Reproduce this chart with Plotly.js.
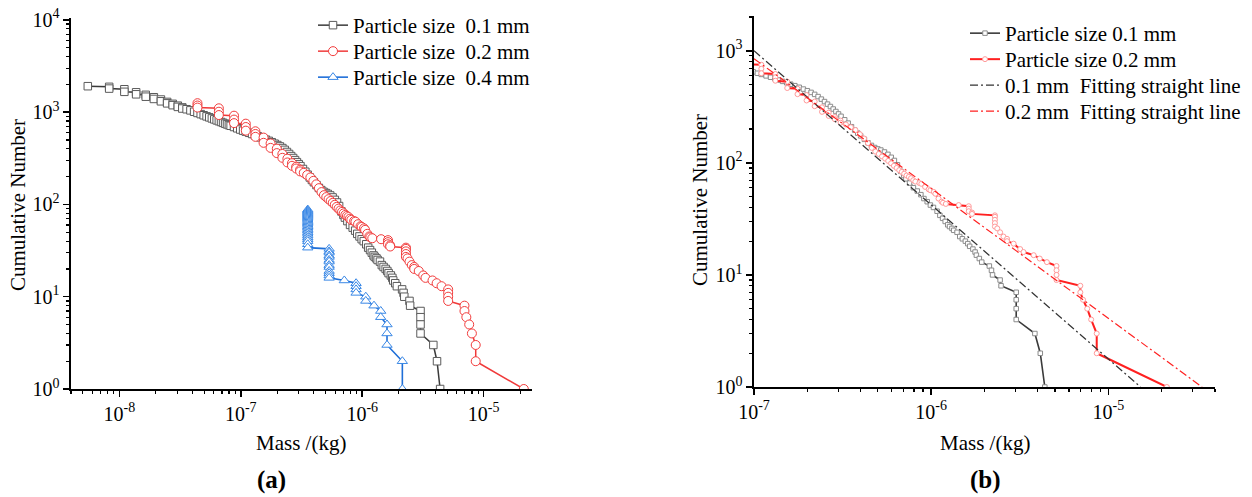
<!DOCTYPE html>
<html>
<head>
<meta charset="utf-8">
<script src="https://cdn.plot.ly/plotly-3.0.1.min.js"></script>
<style>html,body{margin:0;padding:0;background:#fff;}#chart{width:1252px;height:497px;}</style>
</head>
<body>
<div id="chart"></div>
<script>
// ---- data ----
// 0.1 mm particles: mass (kg) and cumulative number
const mass01 = [5.5e-9, 8.25e-9, 8.25e-9, 1.1e-8, 1.1e-8, 1.375e-8, 1.375e-8, 1.65e-8, 1.65e-8, 1.925e-8, 1.925e-8, 2.2e-8, 2.2e-8, 2.475e-8, 2.475e-8, 2.75e-8, 2.75e-8, 3.03e-8, 3.03e-8, 3.3e-8, 3.3e-8, 3.58e-8, 3.85e-8, 4.13e-8, 4.4e-8, 4.68e-8, 4.95e-8, 5.23e-8, 5.5e-8, 5.78e-8, 6.05e-8, 6.33e-8, 6.6e-8, 6.88e-8, 7.15e-8, 7.43e-8, 7.7e-8, 7.98e-8, 8.25e-8, 8.8e-8, 9.35e-8, 9.9e-8, 1.045e-7, 1.1e-7, 1.17e-7, 1.24e-7, 1.31e-7, 1.38e-7, 1.45e-7, 1.53e-7, 1.61e-7, 1.7e-7, 1.8e-7, 1.9e-7, 2.0e-7, 2.1e-7, 2.2e-7, 2.3e-7, 2.4e-7, 2.5e-7, 2.6e-7, 2.7e-7, 2.8e-7, 2.9e-7, 3.0e-7, 3.1e-7, 3.25e-7, 3.4e-7, 3.55e-7, 3.7e-7, 3.85e-7, 4.0e-7, 4.2e-7, 4.4e-7, 4.6e-7, 4.8e-7, 5.0e-7, 5.2e-7, 5.45e-7, 5.7e-7, 5.95e-7, 6.2e-7, 6.45e-7, 6.74e-7, 7.0e-7, 7.2e-7, 7.55e-7, 7.94e-7, 8.35e-7, 8.75e-7, 9.1e-7, 9.5e-7, 9.9e-7, 1.03e-6, 1.08e-6, 1.12e-6, 1.16e-6, 1.2e-6, 1.24e-6, 1.27e-6, 1.31e-6, 1.34e-6, 1.4e-6, 1.45e-6, 1.5e-6, 1.56e-6, 1.61e-6, 1.65e-6, 1.72e-6, 1.77e-6, 1.8e-6, 1.87e-6, 1.93e-6, 2.13e-6, 2.19e-6, 2.22e-6, 2.45e-6, 2.48e-6, 3.02e-6, 3.02e-6, 3.02e-6, 3.02e-6, 3.85e-6, 4.13e-6, 4.38e-6];
const count01 = [1910, 1880, 1800, 1770, 1660, 1640, 1560, 1540, 1470, 1450, 1390, 1370, 1310, 1290, 1245, 1230, 1190, 1175, 1140, 1125, 1095, 1075, 1045, 1010, 980, 952, 925, 900, 878, 855, 835, 815, 798, 782, 766, 750, 737, 724, 712, 690, 668, 648, 630, 615, 597, 580, 563, 548, 533, 518, 503, 488, 472, 455, 440, 425, 408, 390, 370, 352, 334, 318, 302, 287, 273, 260, 242, 226, 210, 196, 184, 174, 162, 151, 143, 137, 133, 130, 125, 119, 112, 105, 96, 84, 77, 72, 66, 60, 56, 52, 48, 45, 42, 40, 37, 34, 32, 30, 28, 27, 26, 25, 24, 22, 21, 20, 19, 18, 17, 16, 15, 14, 13, 12, 11, 10, 9, 8, 7, 6, 5, 4, 3, 2, 1];

// 0.2 mm particles
const mass02 = [4.4e-8, 4.4e-8, 4.4e-8, 6.6e-8, 6.6e-8, 6.6e-8, 8.8e-8, 8.8e-8, 8.8e-8, 1.1e-7, 1.1e-7, 1.1e-7, 1.32e-7, 1.32e-7, 1.32e-7, 1.54e-7, 1.54e-7, 1.76e-7, 1.76e-7, 1.98e-7, 1.98e-7, 2.2e-7, 2.2e-7, 2.42e-7, 2.42e-7, 2.64e-7, 2.64e-7, 2.86e-7, 2.86e-7, 3.08e-7, 3.08e-7, 3.3e-7, 3.52e-7, 3.74e-7, 3.96e-7, 4.18e-7, 4.4e-7, 4.62e-7, 4.84e-7, 5.06e-7, 5.28e-7, 5.5e-7, 5.72e-7, 5.94e-7, 6.16e-7, 6.38e-7, 6.6e-7, 6.82e-7, 7.04e-7, 7.26e-7, 7.48e-7, 7.7e-7, 7.92e-7, 8.14e-7, 8.58e-7, 8.8e-7, 9.24e-7, 9.68e-7, 9.9e-7, 1.034e-6, 1.056e-6, 1.1e-6, 1.144e-6, 1.166e-6, 1.21e-6, 1.43e-6, 1.63e-6, 1.63e-6, 1.63e-6, 1.7e-6, 1.7e-6, 2.29e-6, 2.29e-6, 2.29e-6, 2.29e-6, 2.29e-6, 2.36e-6, 2.45e-6, 2.56e-6, 2.68e-6, 2.68e-6, 2.92e-6, 3.18e-6, 3.32e-6, 3.79e-6, 4.1e-6, 4.5e-6, 5.1e-6, 5.1e-6, 5.1e-6, 5.1e-6, 6.95e-6, 6.95e-6, 7.2e-6, 7.6e-6, 8.0e-6, 8.6e-6, 8.6e-6, 2.14e-5];
const count02 = [1250, 1180, 1120, 1100, 1010, 930, 915, 830, 760, 750, 690, 630, 620, 580, 540, 530, 465, 458, 410, 402, 360, 352, 320, 313, 285, 280, 262, 256, 245, 238, 228, 220, 208, 196, 180, 165, 150, 136, 126, 120, 114, 109, 104, 99, 94, 90, 86, 83, 80, 77, 75, 73, 70, 68, 66, 65, 61, 58, 57, 55, 53, 48, 45, 44, 43, 42, 41, 39, 37, 36, 35, 34, 33, 31, 29, 27, 26, 24, 22, 21, 20, 19, 17, 16, 15, 14, 13, 12, 11, 10, 9, 8, 7, 6, 5, 4, 3, 2, 1];

// 0.4 mm particles
const mass04 = [3.56e-7, 3.56e-7, 3.56e-7, 3.56e-7, 3.56e-7, 3.56e-7, 3.56e-7, 3.56e-7, 3.56e-7, 3.56e-7, 3.56e-7, 3.56e-7, 3.56e-7, 3.56e-7, 3.56e-7, 3.56e-7, 3.56e-7, 3.56e-7, 3.56e-7, 3.56e-7, 3.56e-7, 3.56e-7, 3.56e-7, 3.56e-7, 3.56e-7, 3.56e-7, 3.56e-7, 5.34e-7, 5.34e-7, 5.34e-7, 5.34e-7, 5.34e-7, 5.34e-7, 5.34e-7, 5.34e-7, 5.34e-7, 5.34e-7, 5.34e-7, 5.34e-7, 5.34e-7, 7.12e-7, 8.9e-7, 8.9e-7, 8.9e-7, 8.9e-7, 1.07e-6, 1.07e-6, 1.25e-6, 1.42e-6, 1.42e-6, 1.6e-6, 1.6e-6, 1.6e-6, 2.14e-6, 2.14e-6];
const count04 = [88, 86, 84, 82, 80, 78, 76, 74, 72, 70, 68, 66, 64, 62, 60, 58, 56, 54, 52, 50, 48, 46, 44, 42, 40, 37, 34, 33, 31, 30, 28, 27, 25, 24, 22, 21, 19, 18, 17, 16, 15, 14, 13, 12, 11, 10, 9, 8, 7, 6, 5, 4, 3, 2, 1];

// fitted straight lines (panel b), end points
const fit01Mass = [1e-7, 1.52e-5];
const fit01Count = [1000, 1];
const fit02Mass = [1e-7, 3.38e-5];
const fit02Count = [850, 1];

// tick values
const xTicksA = [1e-8, 1e-7, 1e-6, 1e-5];
const xTicksB = [1e-7, 1e-6, 1e-5];
const yTicksA = [1, 10, 100, 1000, 10000];
const yTicksB = [1, 10, 100, 1000];

// ---- drawing ----
const FONT = '"Liberation Serif", "Times New Roman", serif';
function powLabel(v) {
  const e = Math.round(Math.log10(v));
  return '10<sup>' + (e < 0 ? '-' + (-e) : e) + '</sup>';
}
function logAxis(domain, range, tickvals, anchor) {
  return {
    type: 'log', domain: domain, range: range, anchor: anchor,
    tickmode: 'array', tickvals: tickvals, ticktext: tickvals.map(powLabel),
    ticks: 'outside', ticklen: 6, tickwidth: 1.5, tickcolor: '#000',
    showline: true, linecolor: '#000', linewidth: 1.6, mirror: false,
    showgrid: false, zeroline: false,
    tickfont: {family: FONT, size: 20, color: '#000'},
    minor: {dtick: 'D1', ticks: 'outside', ticklen: 3.5, tickwidth: 1.2, tickcolor: '#000', showgrid: false}
  };
}

const sp = '\u00a0';
const traces = [
  {x: mass01, y: count01, xaxis: 'x', yaxis: 'y', legend: 'legend', mode: 'lines+markers',
   name: 'Particle size' + sp + sp + '0.1 mm',
   line: {color: '#3a3a3a', width: 1.5},
   marker: {symbol: 'square', size: 7.5, color: '#fff', line: {color: '#5a5a5a', width: 1}}},
  {x: mass02, y: count02, xaxis: 'x', yaxis: 'y', legend: 'legend2', mode: 'lines+markers',
   name: 'Particle size' + sp + sp + '0.2 mm',
   line: {color: '#f03a3a', width: 1.5},
   marker: {symbol: 'circle', size: 9, color: '#fff', line: {color: '#f23c3c', width: 1}}},
  {x: mass04, y: count04, xaxis: 'x', yaxis: 'y', legend: 'legend3', mode: 'lines+markers',
   name: 'Particle size' + sp + sp + '0.4 mm',
   line: {color: '#1f6fd8', width: 1.6},
   marker: {symbol: 'triangle-up', size: 9, color: '#fff', line: {color: '#3a88e6', width: 1}}},

  {x: mass01, y: count01, xaxis: 'x2', yaxis: 'y2', legend: 'legend4', mode: 'lines+markers',
   name: 'Particle size 0.1 mm',
   line: {color: '#3a3a3a', width: 1.6},
   marker: {symbol: 'square', size: 4.5, color: '#fff', line: {color: '#8c8c8c', width: 1}}},
  {x: mass02, y: count02, xaxis: 'x2', yaxis: 'y2', legend: 'legend5', mode: 'lines+markers',
   name: 'Particle size 0.2 mm',
   line: {color: '#ff2020', width: 2},
   marker: {symbol: 'circle', size: 5, color: '#fff', line: {color: '#ff9a9a', width: 1}}},
  {x: fit01Mass, y: fit01Count, xaxis: 'x2', yaxis: 'y2', legend: 'legend6', mode: 'lines',
   name: '0.1 mm' + sp + sp + 'Fitting straight line',
   line: {color: '#333', width: 1.2, dash: '8px,3px,2px,3px'}},
  {x: fit02Mass, y: fit02Count, xaxis: 'x2', yaxis: 'y2', legend: 'legend7', mode: 'lines',
   name: '0.2 mm' + sp + sp + 'Fitting straight line',
   line: {color: '#ff2020', width: 1.2, dash: '8px,3px,2px,3px'}}
];

const W = 1252, H = 497;
const px = v => v / W, py = v => 1 - v / H;

function legendAt(left, top) {
  return {x: px(left), y: py(top), xanchor: 'left', yanchor: 'top', bgcolor: 'rgba(0,0,0,0)',
          font: {family: FONT, size: 21, color: '#000'}, tracegroupgap: 0};
}

const layout = {
  width: W, height: H,
  margin: {l: 0, r: 0, t: 0, b: 0},
  paper_bgcolor: '#fff', plot_bgcolor: '#fff',
  font: {family: FONT, color: '#000', size: 20},
  showlegend: true,
  xaxis: logAxis([px(71), px(532)], [Math.log10(4e-9), Math.log10(2.5e-5)], xTicksA, 'y'),
  yaxis: logAxis([py(389), py(18)], [0, 4.02], yTicksA, 'x'),
  xaxis2: logAxis([px(754), px(1215)], [-7, Math.log10(4e-5)], xTicksB, 'y2'),
  yaxis2: logAxis([py(387), py(16)], [0, 3.31], yTicksB, 'x2'),
  legend: legendAt(313, 5),
  legend2: legendAt(313, 31),
  legend3: legendAt(313, 57),
  legend4: legendAt(965, 13),
  legend5: legendAt(965, 39),
  legend6: legendAt(965, 65),
  legend7: legendAt(965, 91),
  annotations: [
    {text: 'Cumulative Number', xref: 'paper', yref: 'paper', x: px(18), y: py(205), textangle: -90,
     showarrow: false, font: {family: FONT, size: 21}, xanchor: 'center', yanchor: 'middle'},
    {text: 'Mass /(kg)', xref: 'paper', yref: 'paper', x: px(301), y: py(443),
     showarrow: false, font: {family: FONT, size: 21}, xanchor: 'center', yanchor: 'middle'},
    {text: '<b>(a)</b>', xref: 'paper', yref: 'paper', x: px(271), y: py(480),
     showarrow: false, font: {family: FONT, size: 25}, xanchor: 'center', yanchor: 'middle'},
    {text: 'Cumulative Number', xref: 'paper', yref: 'paper', x: px(700), y: py(200), textangle: -90,
     showarrow: false, font: {family: FONT, size: 21}, xanchor: 'center', yanchor: 'middle'},
    {text: 'Mass /(kg)', xref: 'paper', yref: 'paper', x: px(985), y: py(443),
     showarrow: false, font: {family: FONT, size: 21}, xanchor: 'center', yanchor: 'middle'},
    {text: '<b>(b)</b>', xref: 'paper', yref: 'paper', x: px(985), y: py(480),
     showarrow: false, font: {family: FONT, size: 25}, xanchor: 'center', yanchor: 'middle'}
  ]
};

Plotly.newPlot('chart', traces, layout, {staticPlot: true, displayModeBar: false});
</script>
</body>
</html>
